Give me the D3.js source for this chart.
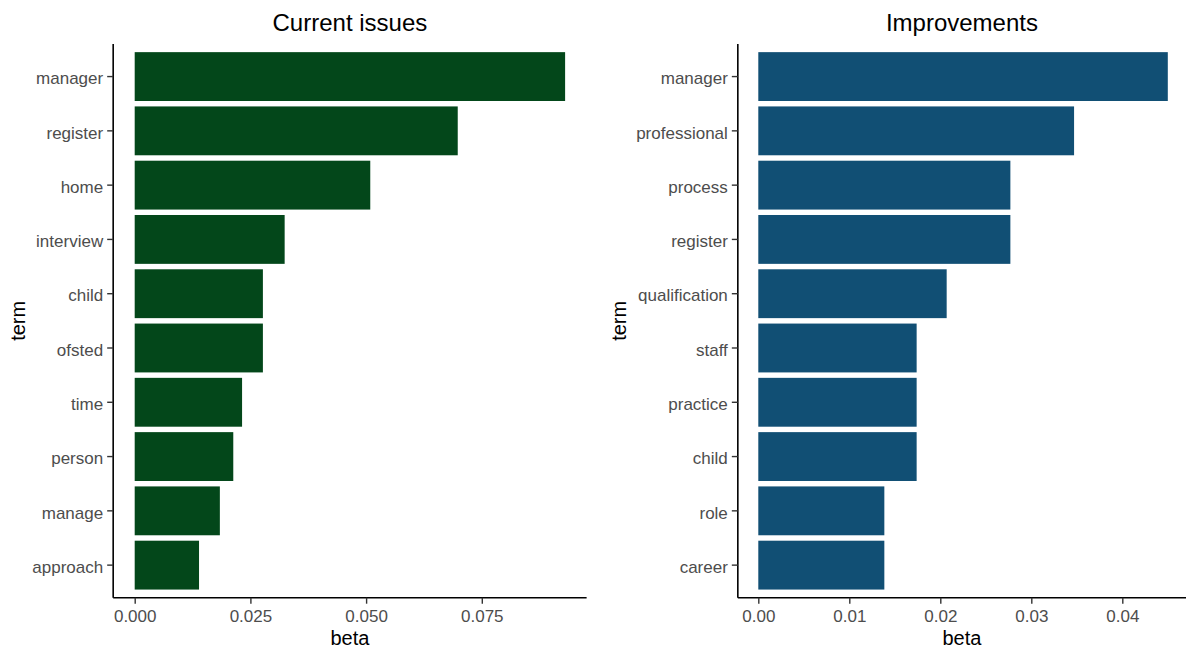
<!DOCTYPE html>
<html><head><meta charset="utf-8">
<script src="https://cdn.jsdelivr.net/npm/d3@7"></script>
<style>body{margin:0;background:#fff}svg{display:block}text{font-family:"Liberation Sans",Arial,sans-serif}</style>
</head><body><svg id="c" width="1186" height="652"></svg>
<script>
const leftTerms = ["manager","register","home","interview","child","ofsted","time","person","manage","approach"];
const leftBeta  = [0.0930,0.0698,0.0509,0.0324,0.0277,0.0277,0.0232,0.0213,0.0184,0.0139];
const leftTicks = [0, 0.025, 0.05, 0.075];
const leftTickLabels = ["0.000","0.025","0.050","0.075"];
const rightTerms = ["manager","professional","process","register","qualification","staff","practice","child","role","career"];
const rightBeta  = [0.0450,0.0347,0.0277,0.0277,0.0207,0.0174,0.0174,0.0174,0.01385,0.01385];
const rightTicks = [0, 0.01, 0.02, 0.03, 0.04];
const rightTickLabels = ["0.00","0.01","0.02","0.03","0.04"];

const svg = d3.select("#c");
const plotTop = 44, plotBottom = 597.7;

function panel(o){
  const g = svg.append("g");
  const max = d3.max(o.values);
  const lo = -0.05*max, hi = 1.05*max;
  const x = d3.scaleLinear().domain([lo, hi]).range([o.zeroX + lo*o.k, o.zeroX + hi*o.k]);
  const y = d3.scaleBand().domain(o.terms).range([plotTop, plotBottom]).paddingInner(0.1).paddingOuter(0.15);
  const x0 = x(lo), x1 = Math.min(x(hi), 1186);
  g.selectAll("rect").data(o.terms).join("rect")
    .attr("x", x(0)).attr("y", d => y(d))
    .attr("width", (d,i) => x(o.values[i]) - x(0))
    .attr("height", y.bandwidth())
    .attr("fill", o.color);
  const ya = g.append("g").attr("transform", `translate(${x0},0)`)
    .call(d3.axisLeft(y).tickSize(6).tickPadding(4));
  const xa = g.append("g").attr("transform", `translate(0,${plotBottom})`)
    .call(d3.axisBottom(x).tickValues(o.ticks).tickFormat((d,i)=>o.tickLabels[i]).tickSize(6).tickPadding(6));
  [ya, xa].forEach(a => {
    a.select(".domain").attr("stroke","#000").attr("stroke-width",1.6);
    a.selectAll(".tick line").attr("stroke","#333").attr("stroke-width",1.4);
    a.selectAll(".tick text").attr("fill","#4D4D4D").style("font-size","17px").style("font-family","'Liberation Sans',Arial,sans-serif");
  });
  ya.selectAll(".tick text").attr("dy","0.45em");
  ya.select(".domain").attr("d", `M0,${plotTop}V${plotBottom}`);
  xa.select(".domain").attr("d", `M${x0},0H${x1}`);
  const cx = (x0 + x1)/2;
  g.append("text").attr("x", cx).attr("y", 31).attr("text-anchor","middle")
    .style("font-size","24px").attr("fill","#000").text(o.title);
  g.append("text").attr("x", cx).attr("y", 645).attr("text-anchor","middle")
    .style("font-size","20px").attr("fill","#000").text("beta");
  g.append("text").attr("transform", `translate(${o.ylabX},${(plotTop+plotBottom)/2}) rotate(-90)`)
    .attr("text-anchor","middle").style("font-size","20px").attr("fill","#000").text("term");
}

panel({terms:leftTerms, values:leftBeta, ticks:leftTicks, tickLabels:leftTickLabels,
  zeroX:134.7, k:4628, color:"#03471A", title:"Current issues", ylabX:25});
panel({terms:rightTerms, values:rightBeta, ticks:rightTicks, tickLabels:rightTickLabels,
  zeroX:758.3, k:9100, color:"#114F74", title:"Improvements", ylabX:626});
</script></body></html>
